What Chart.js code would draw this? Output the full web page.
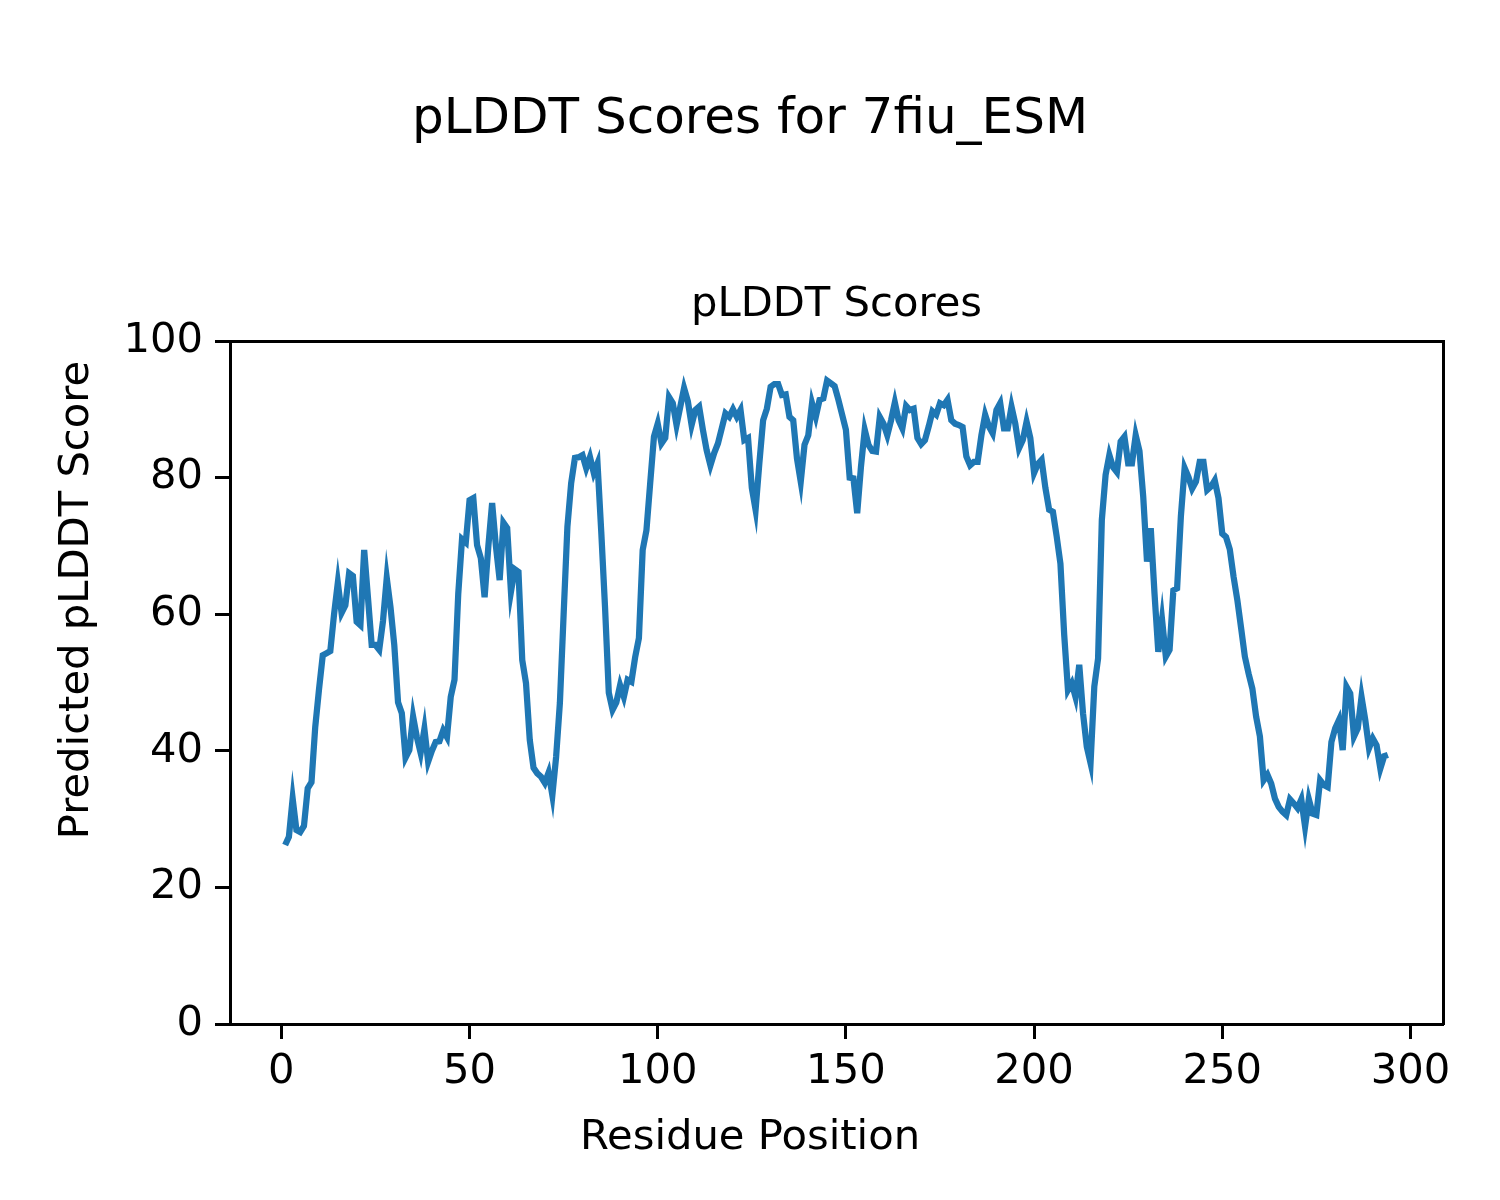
<!DOCTYPE html>
<html>
<head>
<meta charset="utf-8">
<title>pLDDT Scores for 7fiu_ESM</title>
<script src="https://cdn.jsdelivr.net/npm/chart.js@4.4.1/dist/chart.umd.min.js"></script>
<style>
  html, body { margin: 0; padding: 0; background: #fff; }
  #wrap { width: 1500px; height: 1200px; }
</style>
</head>
<body>
<div id="wrap"><canvas id="plddtChart" width="1500" height="1200"></canvas></div>
<script>
// residue numbering starts at 1
const firstResidue = 1;
const plddtScores = [
  26.2, 27.4, 33.0, 28.4, 28.1, 29.0, 34.5, 35.4, 43.5, 49.0,
  54.0, 54.3, 54.6, 60.0, 64.6, 60.2, 61.3, 66.0, 65.6, 58.9,
  58.4, 69.4, 62.5, 55.5, 55.5, 54.8, 59.0, 65.3, 61.0, 55.5,
  47.1, 45.5, 39.0, 40.1, 45.0, 42.0, 39.7, 43.2, 38.4, 40.0,
  41.3, 41.4, 43.0, 42.0, 47.9, 50.4, 63.0, 71.0, 70.5, 76.7,
  77.0, 70.1, 68.2, 62.5, 70.0, 76.3, 70.0, 65.0, 73.4, 72.6,
  63.3, 66.6, 66.2, 53.3, 49.9, 41.6, 37.5, 36.7, 36.2, 35.3,
  36.8, 33.5, 39.1, 47.0, 60.0, 72.8, 79.2, 82.9, 83.0, 83.3,
  81.4, 83.0, 80.7, 82.1, 72.0, 61.0, 48.5, 46.0, 47.1, 49.6,
  47.9, 50.4, 50.1, 53.7, 56.5, 69.4, 72.3, 79.2, 86.0, 87.9,
  85.0, 85.8, 91.8, 90.9, 87.7, 90.4, 93.1, 91.2, 87.7, 89.9,
  90.4, 87.0, 84.0, 81.8, 83.6, 85.0, 87.2, 89.4, 88.9, 90.0,
  88.9, 89.9, 85.5, 85.8, 78.5, 75.3, 82.1, 88.4, 90.1, 93.3,
  93.7, 93.7, 92.1, 92.2, 88.9, 88.4, 82.8, 79.4, 84.8, 86.2,
  90.9, 88.9, 91.4, 91.6, 94.2, 93.8, 93.4, 91.4, 89.2, 87.0,
  80.0, 79.9, 74.8, 81.6, 87.0, 84.8, 83.9, 83.8, 88.9, 87.9,
  86.2, 88.4, 91.0, 88.4, 87.2, 90.5, 89.9, 90.1, 85.8, 84.9,
  85.5, 87.5, 89.7, 89.2, 90.9, 90.6, 91.4, 88.4, 87.9, 87.7,
  87.4, 83.1, 81.8, 82.3, 82.3, 86.2, 89.2, 87.5, 86.5, 89.9,
  90.9, 87.2, 87.2, 90.4, 87.9, 84.3, 85.5, 88.2, 85.8, 80.7,
  82.0, 82.6, 78.5, 75.3, 75.0, 71.4, 67.4, 57.0, 48.9, 49.9,
  47.9, 52.6, 45.5, 40.6, 38.2, 49.4, 53.5, 73.8, 80.4, 83.3,
  81.5, 80.8, 85.3, 86.0, 82.1, 82.1, 86.2, 83.9, 77.2, 67.7,
  72.6, 63.0, 54.5, 59.2, 53.8, 54.8, 63.5, 63.8, 74.3, 81.4,
  80.1, 78.4, 79.4, 82.3, 82.3, 78.2, 78.7, 79.6, 77.0, 71.8,
  71.3, 69.5, 65.5, 62.1, 58.0, 53.8, 51.3, 49.1, 45.0, 42.1,
  35.7, 36.5, 35.2, 33.0, 31.8, 31.1, 30.6, 32.9, 32.3, 31.6,
  32.9, 28.9, 32.9, 30.8, 30.6, 35.7, 35.0, 34.7, 41.3, 43.3,
  44.5, 40.1, 49.4, 48.4, 42.1, 43.3, 47.9, 44.5, 40.4, 41.8,
  40.8, 37.4, 39.2, 39.4
];
const residuePositions = plddtScores.map((_, i) => i + firstResidue);
const xTickValues = [0, 50, 100, 150, 200, 250, 300];
const yTickValues = [0, 20, 40, 60, 80, 100];
const xAxisLabel = "Residue Position";
const yAxisLabel = "Predicted pLDDT Score";

const fontFamily = "'DejaVu Sans', 'Liberation Sans', sans-serif";
const black = "#000000";
const lineBlue = "#1f77b4";

// matplotlib style 5% margin on x
const firstX = residuePositions[0];
const lastX = residuePositions[residuePositions.length - 1];
const xPad = (lastX - firstX) * 0.05;
const xMin = firstX - xPad;
const xMax = lastX + xPad;

const tickFont = { family: fontFamily, size: 41.7 };
const labelFont = { family: fontFamily, size: 41.7 };

// axis labels sit at the figure centre, not the plot centre (fig.supxlabel style)
const figureLabels = {
  id: "figureLabels",
  afterDraw(chart) {
    const c = chart.ctx;
    c.save();
    c.fillStyle = black;
    c.font = `${labelFont.size}px ${fontFamily}`;
    c.textAlign = "center";
    c.textBaseline = "middle";
    c.fillText(xAxisLabel, chart.width / 2, 1138);
    c.translate(77, chart.height / 2);
    c.rotate(-Math.PI / 2);
    c.fillText(yAxisLabel, 0, 0);
    c.restore();
  }
};

const ctx = document.getElementById("plddtChart").getContext("2d");
const plddtChart = new Chart(ctx, {
  type: "line",
  data: {
    labels: residuePositions,
    datasets: [{
      data: plddtScores,
      xAxisID: "x",
      yAxisID: "y",
      borderColor: lineBlue,
      borderWidth: 6.25,
      pointRadius: 0,
      fill: false,
      tension: 0
    }]
  },
  plugins: [figureLabels],
  options: {
    responsive: false,
    animation: false,
    events: [],
    layout: { padding: { left: 45, right: 45, top: 0, bottom: 32 } },
    plugins: {
      legend: { display: false },
      tooltip: { enabled: false },
      title: {
        display: true,
        text: "pLDDT Scores for 7fiu_ESM",
        color: black,
        font: { family: fontFamily, size: 50, weight: "normal" },
        padding: { top: 90, bottom: 130 }
      }
    },
    scales: {
      x: {
        type: "linear",
        position: "bottom",
        min: xMin,
        max: xMax,
        afterBuildTicks: (scale) => { scale.ticks = xTickValues.map((v) => ({ value: v })); },
        afterFit: (scale) => { scale.height = 144; },
        ticks: { color: black, font: tickFont, padding: 8, maxRotation: 0, autoSkip: false },
        grid: { display: true, drawOnChartArea: false, drawTicks: true, tickLength: 15, tickWidth: 3, tickColor: black },
        border: { display: true, color: black, width: 3 }
      },
      xTop: {
        type: "linear",
        position: "top",
        min: xMin,
        max: xMax,
        ticks: { display: false },
        grid: { display: false },
        border: { display: true, color: black, width: 3 },
        title: { display: true, text: "pLDDT Scores", color: black, font: labelFont, padding: { top: 0, bottom: 3 } }
      },
      y: {
        type: "linear",
        position: "left",
        min: 0,
        max: 100,
        afterBuildTicks: (scale) => { scale.ticks = yTickValues.map((v) => ({ value: v })); },
        afterFit: (scale) => { scale.width = 185; },
        ticks: { color: black, font: tickFont, padding: 12 },
        grid: { display: true, drawOnChartArea: false, drawTicks: true, tickLength: 15, tickWidth: 3, tickColor: black },
        border: { display: true, color: black, width: 3 }
      },
      yRight: {
        type: "linear",
        position: "right",
        min: 0,
        max: 100,
        ticks: { display: false },
        grid: { display: false },
        border: { display: true, color: black, width: 3 },
        afterFit: (scale) => { scale.width = 12; }
      }
    }
  }
});
</script>
</body>
</html>
